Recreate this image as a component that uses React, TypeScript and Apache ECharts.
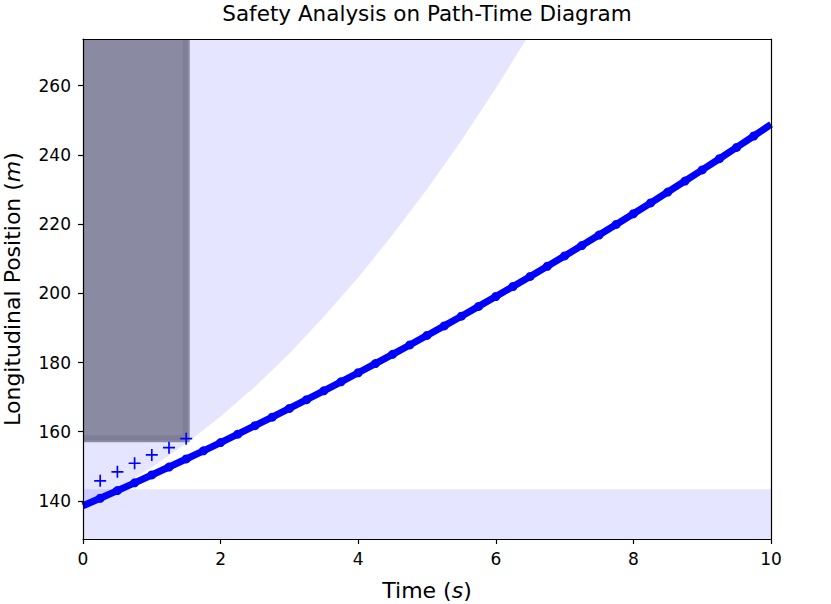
import React, { useEffect, useRef } from "react";
import * as echarts from "echarts";

// Ego vehicle planned path (time in s, position in m)
const egoTime = [
  0, 0.25, 0.5, 0.75, 1, 1.25, 1.5, 1.75, 2, 2.25, 2.5, 2.75, 3, 3.25, 3.5, 3.75,
  4, 4.25, 4.5, 4.75, 5, 5.25, 5.5, 5.75, 6, 6.25, 6.5, 6.75, 7, 7.25, 7.5, 7.75,
  8, 8.25, 8.5, 8.75, 9, 9.25, 9.5, 9.75, 10,
];
const egoPosition = [
  138.6, 140.78, 142.99, 145.23, 147.51, 149.8, 152.13, 154.49, 156.88, 159.3,
  161.74, 164.22, 166.73, 169.26, 171.82, 174.42, 177.04, 179.69, 182.37, 185.08,
  187.83, 190.59, 193.39, 196.22, 199.08, 201.97, 204.88, 207.83, 210.81, 213.81,
  216.84, 219.91, 223.0, 226.12, 229.27, 232.45, 235.67, 238.9, 242.17, 245.47, 248.8,
];

// Predicted obstacle positions ("+" markers)
const predictedTime = [0.25, 0.5, 0.75, 1.0, 1.25, 1.5];
const predictedPosition = [145.8, 148.4, 150.9, 153.3, 155.4, 158.0];

// Upper unsafe region lower boundary
const boundaryTime = [0, 0.5, 1, 1.5, 2, 2.5, 3, 3.5, 4, 4.5, 5, 5.5, 6, 6.5];
const boundaryPosition = [
  138.7, 143.8, 149.7, 156.6, 164.4, 173.0, 182.6, 193.2, 204.6, 216.9, 230.1,
  244.2, 259.3, 275.2,
];

// Lower unsafe band
const bandTime = [0, 10];
const bandTop = [143.4, 143.4];

// Obstacle occupied region
const obstacleTime = [0, 1.5];
const obstacleLow = 158.0;

// Axes
const xRange = [0, 10];
const yRange = [129, 273.5];
const xTicks = [0, 2, 4, 6, 8, 10];
const yTicks = [140, 160, 180, 200, 220, 240, 260];

const FONT = "DejaVu Sans";
const LIGHT = "rgba(0,0,255,0.1)";

export default function App() {
  const ref = useRef<HTMLDivElement>(null);

  useEffect(() => {
    if (!ref.current) return;
    const chart = echarts.init(ref.current, undefined, { renderer: "svg" });

    const axisLineStyle = { color: "#000", width: 1.2 };
    const nameStyle = {
      fontSize: 22,
      fontFamily: FONT,
      color: "#000",
      rich: {
        i: { fontSize: 22, fontFamily: FONT, color: "#000", fontStyle: "italic" },
      },
    };

    const lastIdx = egoTime.length - 1;

    const option: any = {
      animation: false,
      backgroundColor: "#fff",
      textStyle: { fontFamily: FONT },
      grid: {
        left: 83,
        right: 60,
        top: 39,
        bottom: 65,
        containLabel: false,
        outerBoundsMode: "none",
      },
      graphic: [
        {
          type: "text",
          x: 427,
          y: 13,
          z: 100,
          style: {
            text: "Safety Analysis on Path-Time Diagram",
            fontSize: 21.5,
            fontFamily: FONT,
            fill: "#000",
            align: "center",
            verticalAlign: "middle",
          },
        },
      ],
      xAxis: [
        {
          type: "value",
          min: xRange[0],
          max: xRange[1],
          interval: 2,
          position: "bottom",
          z: 10,
          axisLine: { show: true, onZero: false, lineStyle: axisLineStyle },
          axisTick: {
            show: true,
            inside: false,
            length: 5,
            lineStyle: axisLineStyle,
            customValues: xTicks,
          },
          axisLabel: {
            margin: 11,
            fontSize: 17,
            fontFamily: FONT,
            color: "#000",
            customValues: xTicks,
          },
          splitLine: { show: false },
          name: "Time ({i|s})",
          nameLocation: "middle",
          nameGap: 40,
          nameTextStyle: nameStyle,
        },
        {
          type: "value",
          min: xRange[0],
          max: xRange[1],
          position: "top",
          z: 10,
          axisLine: { show: true, onZero: false, lineStyle: axisLineStyle },
          axisTick: { show: false },
          axisLabel: { show: false },
          splitLine: { show: false },
        },
      ],
      yAxis: [
        {
          type: "value",
          min: yRange[0],
          max: yRange[1],
          position: "left",
          z: 10,
          axisLine: { show: true, onZero: false, lineStyle: axisLineStyle },
          axisTick: {
            show: true,
            inside: false,
            length: 5,
            lineStyle: axisLineStyle,
            customValues: yTicks,
          },
          axisLabel: {
            margin: 12,
            fontSize: 17,
            fontFamily: FONT,
            color: "#000",
            customValues: yTicks,
          },
          splitLine: { show: false },
          name: "Longitudinal Position ({i|m})",
          nameLocation: "middle",
          nameGap: 60,
          nameTextStyle: nameStyle,
        },
        {
          type: "value",
          min: yRange[0],
          max: yRange[1],
          position: "right",
          z: 10,
          axisLine: { show: true, onZero: false, lineStyle: axisLineStyle },
          axisTick: { show: false },
          axisLabel: { show: false },
          splitLine: { show: false },
        },
      ],
      series: [
        {
          type: "line",
          name: "boundary",
          data: boundaryTime.map((t, i) => [t, boundaryPosition[i]]),
          symbol: "none",
          lineStyle: { width: 0, color: LIGHT },
          areaStyle: { color: LIGHT, origin: "end", opacity: 1 },
          clip: true,
          z: 1,
          silent: true,
        },
        {
          type: "line",
          name: "band",
          data: bandTime.map((t, i) => [t, bandTop[i]]),
          symbol: "none",
          lineStyle: { width: 0, color: LIGHT },
          areaStyle: { color: LIGHT, origin: "start", opacity: 1 },
          clip: true,
          z: 1,
          silent: true,
        },
        {
          type: "custom",
          name: "obstacle",
          data: [[obstacleTime[0], obstacleTime[1], obstacleLow]],
          encode: { x: [0, 1], y: [2] },
          z: 2,
          silent: true,
          renderItem: (_params: any, api: any) => {
            const t0 = api.value(0);
            const t1 = api.value(1);
            const s0 = api.value(2);
            const pTL = api.coord([t0, yRange[1]]);
            const pBR = api.coord([t1, s0]);
            const x0 = pTL[0];
            const y0 = pTL[1];
            const x1 = pBR[0];
            const y1 = pBR[1];
            return {
              type: "group",
              children: [
                {
                  type: "rect",
                  shape: { x: x0, y: y0, width: x1 + 3.5 - x0, height: y1 + 3.5 - y0 },
                  style: { fill: "#8a8aa3" },
                },
                {
                  type: "rect",
                  shape: { x: x1 - 3.5, y: y0, width: 5, height: y1 + 1.5 - y0 },
                  style: { fill: "#7e7e98" },
                },
                {
                  type: "rect",
                  shape: { x: x0, y: y1 - 3.5, width: x1 - 3.5 - x0, height: 5 },
                  style: { fill: "#7e7e98" },
                },
              ],
            };
          },
        },
        {
          type: "line",
          name: "ego",
          data: egoTime.map((t, i) => ({
            value: [t, egoPosition[i]],
            symbol: i === 0 || i === lastIdx ? "none" : "circle",
          })),
          showSymbol: true,
          symbol: "circle",
          symbolSize: 9,
          lineStyle: { width: 7, color: "#0000ff" },
          itemStyle: { color: "#0000ff", borderWidth: 0 },
          clip: true,
          z: 3,
          silent: true,
        },
        {
          type: "scatter",
          name: "predicted",
          data: predictedTime.map((t, i) => [t, predictedPosition[i]]),
          symbol:
            "path://M4.3,0 H5.7 V4.3 H10 V5.7 H5.7 V10 H4.3 V5.7 H0 V4.3 H4.3 Z",
          symbolSize: 12,
          itemStyle: { color: "#0000ff", opacity: 1 },
          z: 4,
          silent: true,
        },
      ],
    };

    chart.setOption(option);
    return () => {
      chart.dispose();
    };
  }, []);

  return (
    <div
      ref={ref}
      style={{ position: "absolute", left: 0, top: 0, width: 831, height: 604, background: "#fff" }}
    />
  );
}
